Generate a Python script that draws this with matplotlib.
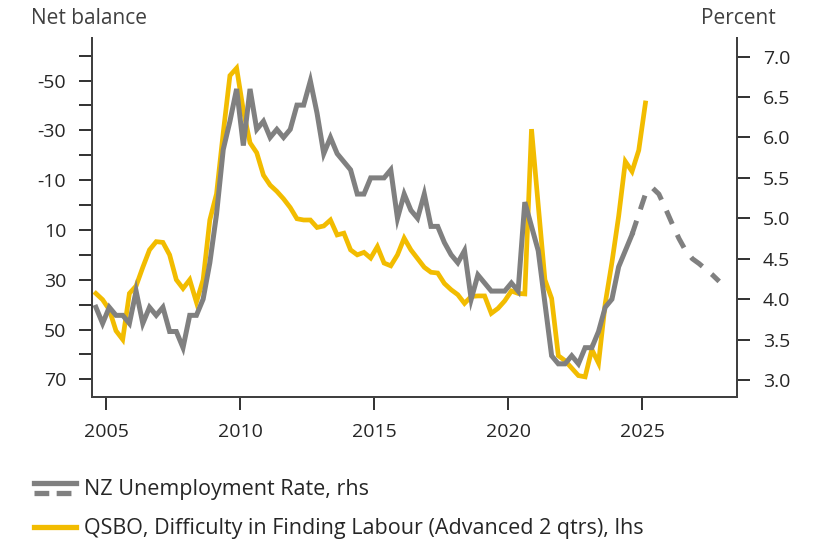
import numpy as np
import matplotlib
matplotlib.use("Agg")
import matplotlib.pyplot as plt
from matplotlib.lines import Line2D
from matplotlib.legend_handler import HandlerBase
from matplotlib.ticker import MultipleLocator

plt.rcParams['font.family'] = ['Open Sans', 'DejaVu Sans']
plt.rcParams['axes.unicode_minus'] = False

GREY = '#808080'
GOLD = '#F2BC00'
INK = '#262626'

# quarterly series, first quarter = 2004 Q3
start_year = 2004.625

unemployment = [3.9, 3.7, 3.9, 3.8, 3.8, 3.7, 4.1, 3.7, 3.9, 3.8,
                3.9, 3.6, 3.6, 3.4, 3.8, 3.8, 4.0, 4.45, 5.05, 5.85,
                6.2, 6.6, 5.9, 6.6, 6.1, 6.2, 6.0, 6.1, 6.0, 6.1,
                6.4, 6.4, 6.7, 6.3, 5.8, 6.0, 5.8, 5.7, 5.6, 5.3,
                5.3, 5.5, 5.5, 5.5, 5.6, 5.0, 5.3, 5.1, 5.0, 5.3,
                4.9, 4.9, 4.7, 4.55, 4.45, 4.6, 4.0, 4.3, 4.2, 4.1,
                4.1, 4.1, 4.2, 4.1, 5.2, 4.9, 4.6, 3.95, 3.3, 3.2,
                3.2, 3.3, 3.2, 3.4, 3.4, 3.6, 3.9, 4.0, 4.4, 4.6,
                4.8]

# forecast path, starts at the last actual quarter
unemployment_fc = [4.8, 5.05, 5.3, 5.38, 5.3, 5.12, 4.93, 4.75, 4.6, 4.5,
                   4.44, 4.37, 4.3, 4.22]

qsbo_labour = [35.5, 38, 42, 50.5, 54, 35.5, 32.5, 25, 18, 14.7,
               15, 20, 30, 33.5, 30, 39, 30, 6, -4.5, -29,
               -52, -55, -38, -25, -21, -12, -8, -5.5, -2.5, 1,
               5.5, 6, 6, 9, 8.4, 6, 12, 11.3, 18, 20,
               19, 21.3, 16.7, 23.3, 24.4, 20, 13.3, 18, 21.5, 25,
               27, 27.3, 31.5, 34, 36, 39.5, 36.7, 36.5, 36.5, 43.5,
               41.5, 38.5, 34.5, 35.5, 35.7, -30.5, 0, 30, 37.5, 60.5,
               62.5, 65.5, 68.5, 69, 58, 63.5, 39.5, 23, 4.5, -17.5,
               -13.5, -22, -41]

year_ticks = [2005, 2010, 2015, 2020, 2025]
left_ticks = [-50, -30, -10, 10, 30, 50, 70]
right_ticks = [3.0, 3.5, 4.0, 4.5, 5.0, 5.5, 6.0, 6.5, 7.0]

t_unemp = start_year + np.arange(len(unemployment)) / 4
t_fc = t_unemp[-1] + np.arange(len(unemployment_fc)) / 4
t_qsbo = start_year + np.arange(len(qsbo_labour)) / 4

fig = plt.figure(figsize=(8.29, 5.41), dpi=100)
ax = fig.add_axes([92 / 829, 1 - 397 / 541, (737 - 92) / 829, (397 - 38) / 541])
ax2 = ax.twinx()

ax.plot(t_qsbo, qsbo_labour, color=GOLD, lw=3.4, solid_joinstyle='miter')
ax2.plot(t_unemp, unemployment, color=GREY, lw=3.6, solid_joinstyle='miter')
ax2.plot(t_fc, unemployment_fc, color=GREY, lw=3.6, dashes=(2.9, 2.4))

ax.set_xlim(2004.48, 2028.54)
ax.set_ylim(77.1, -67.1)
ax2.set_ylim(2.79, 7.23)

ax.set_xticks(year_ticks)
ax.set_yticks(left_ticks)
ax.yaxis.set_minor_locator(MultipleLocator(10))
ax2.set_yticks(right_ticks)
ax2.set_yticklabels(['%.1f' % v for v in right_ticks])

for a in (ax, ax2):
    a.spines['top'].set_visible(False)
    for s in ('left', 'right', 'bottom'):
        a.spines[s].set_color('#404040')
        a.spines[s].set_linewidth(1.4)
    a.tick_params(which='both', direction='out', length=9.5, width=1.4,
                  color='#303030', labelsize=14, labelcolor=INK, pad=9)
ax.tick_params(axis='y', which='minor', length=9.5)

fig.text(31 / 829, 1 - 18 / 541, 'Net balance', fontsize=15, color='#404040',
         ha='left', va='center')
fig.text(776 / 829, 1 - 18 / 541, 'Percent', fontsize=15, color='#404040',
         ha='right', va='center')


class SolidOverDash(HandlerBase):
    # solid bar on top, dashed bar below: actual vs forecast
    def create_artists(self, legend, orig_handle, xdescent, ydescent,
                       width, height, fontsize, trans):
        x = [-xdescent, width - xdescent]
        top = Line2D(x, [height * 0.8] * 2, color=GREY, lw=3.8, transform=trans)
        bottom = Line2D(x, [height * 0.15] * 2, color=GREY, lw=3.8,
                        dashes=(2.8, 1.4), transform=trans)
        return [top, bottom]


gold_handle = Line2D([], [], color=GOLD, lw=3.8)
grey_handle = Line2D([], [], color=GREY, lw=3.8)
fig.legend([grey_handle, gold_handle],
           ['NZ Unemployment Rate, rhs',
            'QSBO, Difficulty in Finding Labour (Advanced 2 qtrs), lhs'],
           handler_map={grey_handle: SolidOverDash()},
           loc='upper left', bbox_to_anchor=(34 / 829, 1 - 479 / 541),
           frameon=False, fontsize=15.5, handlelength=1.95, handletextpad=0.35,
           labelspacing=0.85, borderpad=0, borderaxespad=0, labelcolor=INK)

fig.savefig('out.png', dpi=100)
